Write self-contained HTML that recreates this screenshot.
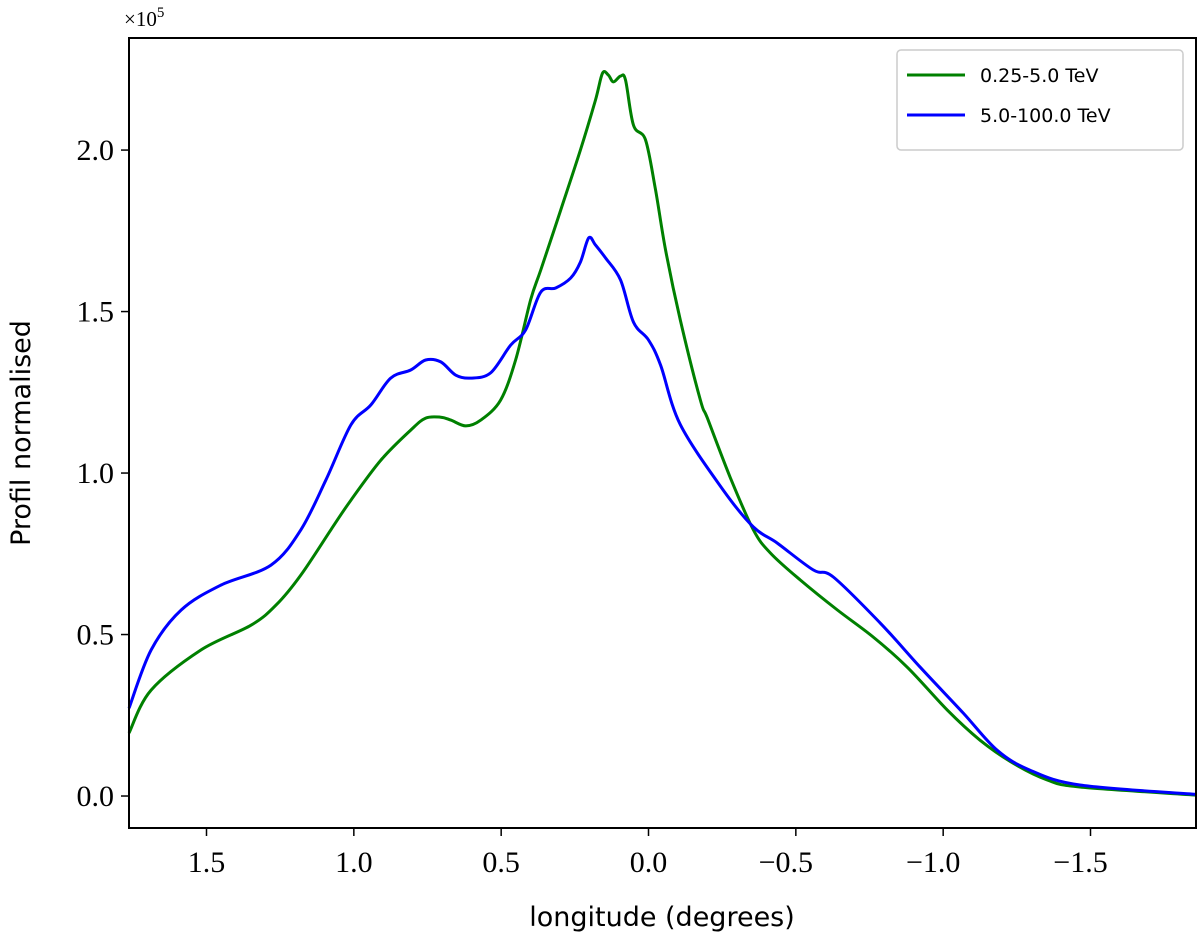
<!DOCTYPE html>
<html><head><meta charset="utf-8"><style>
html,body{margin:0;padding:0;background:#fff;}
svg{display:block;}
.tk{font-family:"Liberation Serif",serif;font-size:30px;fill:#000;}
.lb{font-family:"DejaVu Sans","Liberation Sans",sans-serif;font-size:27px;fill:#000;}
.lg{font-family:"DejaVu Sans","Liberation Sans",sans-serif;font-size:19px;fill:#000;}
</style></head><body>
<svg id="chart" width="1200" height="951" xmlns="http://www.w3.org/2000/svg">
<g id="plot"></g>
<g id="axes"></g>
<text class="tk" x="124" y="26" style="font-size:21px">×10<tspan dy="-9" style="font-size:15px">5</tspan></text>
<text class="lb" x="662" y="926" text-anchor="middle">longitude (degrees)</text>
<text class="lb" transform="translate(30,433) rotate(-90)" text-anchor="middle">Profil normalised</text>
<g>
<rect x="897" y="50" width="286" height="100" rx="4" fill="#fff" stroke="#ccc" stroke-width="1.5"/>
<line x1="907" y1="75" x2="965" y2="75" stroke="#008000" stroke-width="3"/>
<text class="lg" x="980" y="82">0.25-5.0 TeV</text>
<line x1="907" y1="115" x2="965" y2="115" stroke="#0000ff" stroke-width="3"/>
<text class="lg" x="980" y="122">5.0-100.0 TeV</text>
</g>
</svg>
<script>
const greenLon=[1.763,1.688,1.519,1.349,1.264,1.180,1.078,1.010,0.908,0.807,0.756,0.705,0.671,0.620,0.569,0.502,0.451,0.400,0.366,0.298,0.231,0.180,0.156,0.136,0.119,0.095,0.078,0.051,0.010,-0.024,-0.058,-0.108,-0.176,-0.200,-0.278,-0.356,-0.414,-0.515,-0.641,-0.763,-0.878,-1.014,-1.125,-1.237,-1.353,-1.464,-1.858];
const greenVal=[0.195,0.328,0.452,0.529,0.591,0.684,0.824,0.916,1.040,1.133,1.170,1.173,1.164,1.146,1.164,1.226,1.350,1.536,1.628,1.814,2.000,2.155,2.238,2.232,2.211,2.229,2.217,2.077,2.031,1.876,1.690,1.474,1.226,1.170,0.985,0.824,0.752,0.669,0.576,0.492,0.399,0.266,0.173,0.102,0.050,0.028,0.003];
const blueLon=[1.763,1.688,1.586,1.451,1.281,1.180,1.095,1.010,0.942,0.875,0.807,0.756,0.705,0.654,0.603,0.536,0.468,0.417,0.366,0.315,0.264,0.231,0.203,0.180,0.146,0.095,0.051,0.0,-0.041,-0.108,-0.254,-0.356,-0.437,-0.559,-0.627,-0.786,-0.922,-1.068,-1.183,-1.295,-1.464,-1.858];
const blueVal=[0.272,0.452,0.576,0.653,0.715,0.824,0.978,1.149,1.211,1.294,1.319,1.350,1.344,1.303,1.294,1.310,1.396,1.443,1.560,1.573,1.604,1.653,1.728,1.706,1.666,1.598,1.467,1.412,1.334,1.150,0.947,0.833,0.783,0.700,0.678,0.536,0.399,0.257,0.142,0.080,0.034,0.005];
const xTicks=[1.5,1.0,0.5,0.0,-0.5,-1.0,-1.5];
const yTicks=[0.0,0.5,1.0,1.5,2.0];
const L=129,R=1196,T=38,B=828,X0=1.763,X1=-1.858,Y0=-0.099,Y1=2.347;
const sx=v=>L+(v-X0)/(X1-X0)*(R-L);
const sy=v=>B-(v-Y0)/(Y1-Y0)*(B-T);
const NS="http://www.w3.org/2000/svg";
const plot=document.getElementById('plot'),axes=document.getElementById('axes');
function mk(tag,attrs,parent){const e=document.createElementNS(NS,tag);for(const k in attrs)e.setAttribute(k,attrs[k]);parent.appendChild(e);return e;}
function path(xs,ys,color,name){
  const P=xs.map((x,i)=>[sx(x),sy(ys[i])]);
  let d='M'+P[0][0].toFixed(1)+' '+P[0][1].toFixed(1);
  for(let i=0;i<P.length-1;i++){
    const p0=P[Math.max(0,i-1)],p1=P[i],p2=P[i+1],p3=P[Math.min(P.length-1,i+2)];
    const t=0.5/3;
    const c1=[p1[0]+(p2[0]-p0[0])*t,p1[1]+(p2[1]-p0[1])*t];
    const c2=[p2[0]-(p3[0]-p1[0])*t,p2[1]-(p3[1]-p1[1])*t];
    d+=' C'+c1[0].toFixed(1)+' '+c1[1].toFixed(1)+' '+c2[0].toFixed(1)+' '+c2[1].toFixed(1)+' '+p2[0].toFixed(1)+' '+p2[1].toFixed(1);
  }
  const p=mk('path',{d:d,fill:'none',stroke:color,'stroke-width':3,'stroke-linejoin':'round'},plot);
  
  
}
path(greenLon,greenVal,'#008000','series-0.25-5-tev');
path(blueLon,blueVal,'#0000ff','series-5-100-tev');
const frame=mk('rect',{x:L,y:T,width:R-L,height:B-T,fill:'none',stroke:'#000','stroke-width':2},axes);


const fmt=v=>(v<0?'\u2212':'')+Math.abs(v).toFixed(1);
xTicks.forEach(v=>{
  const x=sx(v);
  const t=mk('line',{x1:x,y1:B,x2:x,y2:B+8,stroke:'#000','stroke-width':1.5},axes);
  
  
  const l=mk('text',{x:x-(v<0?10:0),y:B+44,'text-anchor':'middle',class:'tk'},axes);
  l.textContent=fmt(v);
  
  
});
yTicks.forEach(v=>{
  const y=sy(v);
  const t=mk('line',{x1:L-8,y1:y,x2:L,y2:y,stroke:'#000','stroke-width':1.5},axes);
  
  
  const l=mk('text',{x:L-15,y:y+10,'text-anchor':'end',class:'tk'},axes);
  l.textContent=fmt(v);
  
  
});
</script>
</body></html>
